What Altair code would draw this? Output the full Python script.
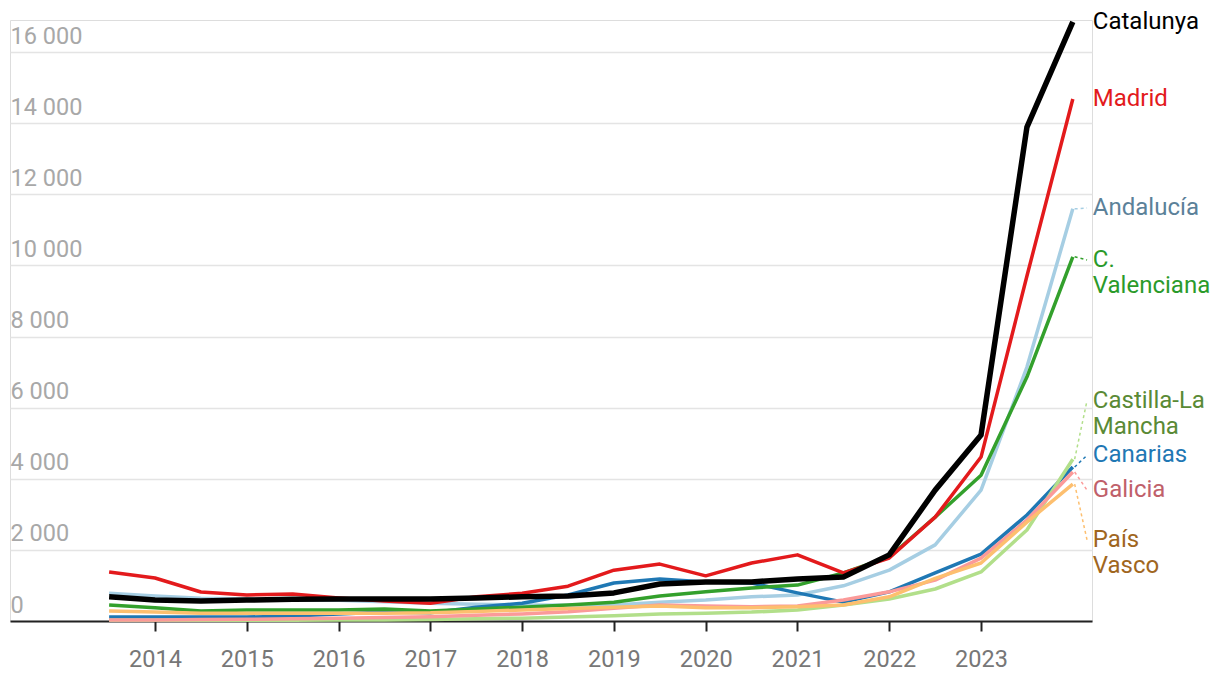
import altair as alt
import pandas as pd

periods = [2013.5, 2014.0, 2014.5, 2015.0, 2015.5, 2016.0, 2016.5, 2017.0, 2017.5, 2018.0, 2018.5,
           2019.0, 2019.5, 2020.0, 2020.5, 2021.0, 2021.5, 2022.0, 2022.5, 2023.0, 2023.5, 2024.0]

catalunya = [680, 590, 560, 590, 610, 620, 620, 620, 650, 680, 700, 790, 1040, 1100, 1100, 1180, 1240, 1860, 3680, 5230, 13890, 16850]
madrid = [1380, 1210, 815, 730, 760, 650, 560, 500, 680, 780, 980, 1430, 1600, 1270, 1630, 1860, 1350, 1770, 2920, 4610, 9700, 14680]
andalucia = [780, 700, 640, 620, 600, 580, 540, 500, 470, 450, 440, 450, 530, 590, 680, 730, 990, 1430, 2140, 3680, 7140, 11590]
valenciana = [450, 370, 280, 310, 310, 310, 340, 280, 340, 390, 450, 530, 700, 820, 930, 1010, 1350, 1800, 2920, 4100, 6860, 10240]
canarias = [110, 110, 110, 110, 140, 200, 250, 230, 390, 500, 730, 1070, 1180, 1100, 1070, 790, 530, 820, 1350, 1880, 2980, 4330]
galicia = [30, 30, 40, 50, 60, 80, 100, 120, 160, 200, 260, 360, 450, 420, 400, 420, 590, 820, 1150, 1770, 2840, 4190]
castilla = [20, 20, 20, 20, 20, 30, 30, 40, 60, 80, 110, 150, 200, 220, 250, 310, 450, 620, 900, 1380, 2560, 4550]
paisvasco = [280, 250, 220, 220, 220, 220, 220, 230, 270, 310, 350, 390, 420, 370, 370, 400, 450, 680, 1200, 1630, 2780, 3850]

regions = ["Andalucía", "Canarias", "Castilla-La Mancha", "C. Valenciana", "Galicia", "Madrid", "País Vasco", "Catalunya"]
series = [andalucia, canarias, castilla, valenciana, galicia, madrid, paisvasco, catalunya]
line_colors = ["#a6cee3", "#1f78b4", "#b2df8a", "#33a02c", "#fb9a99", "#e31a1c", "#fdbf6f", "#000000"]
text_colors = ["#5b8199", "#1f78b4", "#5a8a35", "#2a9a2a", "#c0606a", "#e31a1c", "#a0661e", "#000000"]

label_line1 = ["Andalucía", "Canarias", "Castilla-La", "C.", "Galicia", "Madrid", "País", "Catalunya"]
label_line2 = ["", "", "Mancha", "Valenciana", "", "", "Vasco", ""]
label_y = [11614, 4660, 6200, 10150, 3680, 14680, 2280, 16845]
has_connector = [True, True, True, True, True, False, True, False]

y_ticks = [0, 2000, 4000, 6000, 8000, 10000, 12000, 14000, 16000]
x_ticks = [2014, 2015, 2016, 2017, 2018, 2019, 2020, 2021, 2022, 2023]

rows = []
for r, vals in zip(regions, series):
    for p, v in zip(periods, vals):
        rows.append({"region": r, "period": p, "value": v})
df = pd.DataFrame(rows)

last = periods[-1]
labels = pd.DataFrame({
    "region": regions,
    "line1": label_line1,
    "line2": label_line2,
    "label_y": label_y,
    "end": [s[-1] for s in series],
    "connector": has_connector,
    "x0": [last + 0.02] * len(regions),
    "x1": [last + 0.155] * len(regions),
    "xt": [last] * len(regions),
})

FONT = "Roboto"
AXIS_FS = 23.5
LABEL_FS = 24
xscale = alt.Scale(domain=[2012.42, 2024.209], nice=False, zero=False)
yscale = alt.Scale(domain=[0, 16900], nice=False)
color_scale = alt.Scale(domain=regions, range=line_colors)
text_scale = alt.Scale(domain=regions, range=text_colors)

x_enc = alt.X("period:Q", scale=xscale, axis=alt.Axis(
    values=x_ticks, format="d", title=None, grid=False,
    domainColor="#222", domainWidth=2, tickColor="#222", tickWidth=2, tickSize=10,
    labelFontSize=AXIS_FS, labelColor="#777", labelPadding=16, labelFont=FONT))
y_enc = alt.Y("value:Q", scale=yscale, axis=alt.Axis(
    values=y_ticks, title=None, domain=False, ticks=False, tickSize=0,
    labelExpr="replace(format(datum.value, ','), ',', ' ')",
    gridColor="#e4e4e4", gridWidth=1.5,
    labelAlign="left", labelBaseline="alphabetic", labelPadding=0, labelOffset=-9,
    labelFontSize=AXIS_FS, labelColor="#a8a8a8", labelFont=FONT))

others = alt.Chart(df).transform_filter(alt.datum.region != "Catalunya").mark_line(
    strokeWidth=3.5, strokeJoin="round").encode(
    x=x_enc, y=y_enc,
    color=alt.Color("region:N", scale=color_scale, legend=None))

cat = alt.Chart(df).transform_filter(alt.datum.region == "Catalunya").mark_line(
    strokeWidth=5.5, strokeJoin="round").encode(
    x="period:Q", y="value:Q",
    color=alt.Color("region:N", scale=color_scale, legend=None))

connectors = alt.Chart(labels).transform_filter(alt.datum.connector).mark_rule(
    strokeDash=[3, 3], strokeWidth=1.5).encode(
    x=alt.X("x0:Q", scale=xscale), x2="x1:Q",
    y=alt.Y("end:Q", scale=yscale), y2="label_y:Q",
    color=alt.Color("region:N", scale=color_scale, legend=None))

text1 = alt.Chart(labels).mark_text(align="left", baseline="middle", dx=20, fontSize=LABEL_FS, font=FONT).encode(
    x=alt.X("xt:Q", scale=xscale), y=alt.Y("label_y:Q", scale=yscale),
    text="line1:N",
    color=alt.Color("region:N", scale=text_scale, legend=None))

text2 = alt.Chart(labels).transform_filter(alt.datum.line2 != "").mark_text(
    align="left", baseline="middle", dx=20, dy=26, fontSize=LABEL_FS, font=FONT).encode(
    x=alt.X("xt:Q", scale=xscale), y=alt.Y("label_y:Q", scale=yscale),
    text="line2:N",
    color=alt.Color("region:N", scale=text_scale, legend=None))

chart = alt.layer(others, cat, connectors, text1, text2).resolve_scale(color="independent").properties(
    width=1082, height=601,
    autosize=alt.AutoSizeParams(type="none"),
    padding={"left": 2, "top": 12, "right": 118, "bottom": 50},
).configure_view(stroke=None).configure(font=FONT)

chart.save("out.html", embed_options={"renderer": "svg", "actions": False})
